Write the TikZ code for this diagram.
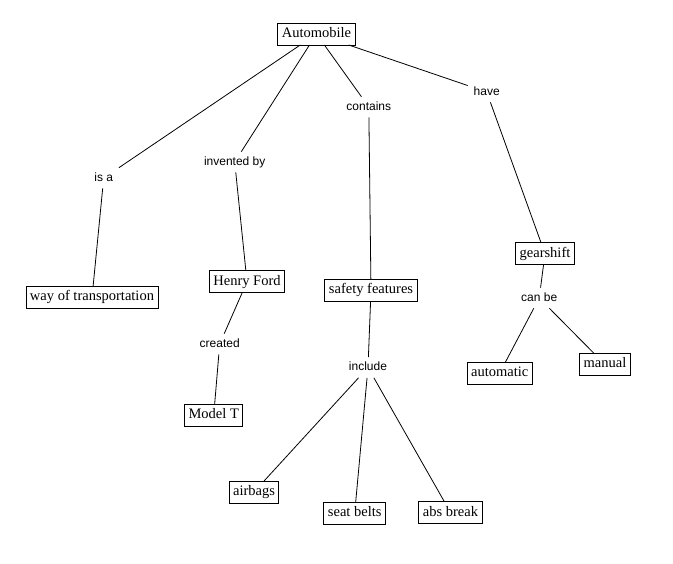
\documentclass[tikz,border=0pt]{standalone}
\usepackage{fontspec}
\newfontfamily\boxfont{Liberation Serif}
\newfontfamily\lblfont{Liberation Sans}
\begin{document}
\begin{tikzpicture}[x=1pt,y=-1pt,
  concept/.style={draw=black,line width=0.9pt,fill=white,inner xsep=4pt,inner ysep=4.5pt,outer sep=0pt,
    text height=10pt,text depth=3pt,font=\boxfont\fontsize{14.5}{16}\selectfont},
  link/.style={inner xsep=6pt,inner ysep=5pt,outer sep=0pt,text height=8.6pt,text depth=2pt,
    font=\lblfont\fontsize{12}{14}\selectfont},
  conn/.style={draw=black,line width=0.8pt}]
\useasboundingbox[fill=white] (0,0) rectangle (673,564);
% concepts
\node[concept] (auto) at (316.5,34) {Automobile};
\node[concept] (way) at (92,297.5) {way of transportation};
\node[concept] (henry) at (247,281.7) {Henry Ford};
\node[concept] (modelt) at (213.7,415.5) {Model T};
\node[concept] (safety) at (371,290.5) {safety features};
\node[concept] (airbags) at (254,492) {airbags};
\node[concept] (seat) at (354.7,513) {seat belts};
\node[concept] (abs) at (450.5,512.5) {abs break};
\node[concept] (gear) at (545,253.7) {gearshift};
\node[concept] (autom) at (499.7,373) {automatic};
\node[concept] (manual) at (605,364.5) {manual};
% linking phrases
\node[link] (isa) at (103.7,178) {is a};
\node[link] (inv) at (234.7,162) {invented by};
\node[link] (cont) at (368.8,107) {contains};
\node[link] (have) at (486.7,92) {have};
\node[link] (created) at (219.7,344) {created};
\node[link] (incl) at (368,367.5) {include};
\node[link] (canbe) at (539.2,298) {can be};
% connectors
\draw[conn] (auto) -- (isa);
\draw[conn] (isa) -- (way);
\draw[conn] (auto) -- (inv);
\draw[conn] (inv) -- (henry);
\draw[conn] (henry) -- (created);
\draw[conn] (created) -- (modelt);
\draw[conn] (auto) -- (cont);
\draw[conn] (cont) -- (safety);
\draw[conn] (safety) -- (incl);
\draw[conn] (incl) -- (airbags);
\draw[conn] (incl) -- (seat);
\draw[conn] (incl) -- (abs);
\draw[conn] (auto) -- (have);
\draw[conn] (have) -- (gear);
\draw[conn] (gear) -- (canbe);
\draw[conn] (canbe) -- (autom);
\draw[conn] (canbe) -- (manual);
\end{tikzpicture}
\end{document}
